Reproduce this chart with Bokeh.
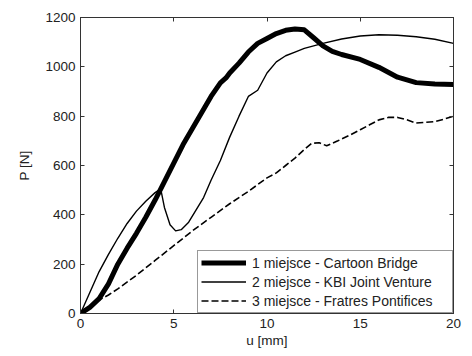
from bokeh.plotting import figure
from bokeh.models import Range1d, LinearAxis, Legend, LegendItem, FixedTicker
from bokeh.embed import file_html
from bokeh.resources import INLINE

# Series 1 - Cartoon Bridge (thick)
u1 = [0, 0.5, 1.0, 1.5, 2.0, 2.5, 3.0, 3.5, 4.0, 4.5, 5.0, 5.5, 6.0, 6.5, 7.0,
      7.5, 7.8, 8.0, 8.5, 9.0, 9.5, 10.0, 10.5, 11.0, 11.5, 12.0, 12.5, 13.0,
      13.5, 14.0, 15.0, 16.0, 17.0, 18.0, 19.0, 20.0]
p1 = [0, 25, 60, 120, 200, 265, 325, 390, 460, 535, 610, 685, 750, 815, 880,
      935, 955, 975, 1015, 1060, 1095, 1115, 1135, 1148, 1153, 1150, 1118, 1085,
      1063, 1050, 1030, 998, 958, 936, 930, 928]

# Series 2 - KBI Joint Venture (thin)
u2 = [0, 0.5, 1.0, 1.5, 2.0, 2.5, 3.0, 3.5, 4.0, 4.3, 4.5, 4.8, 5.1, 5.4, 5.8,
      6.2, 6.6, 7.0, 7.5, 8.0, 8.5, 9.0, 9.5, 10.0, 10.5, 11.0, 11.5, 12.0,
      13.0, 14.0, 15.0, 16.0, 17.0, 18.0, 19.0, 20.0]
p2 = [0, 85, 170, 240, 305, 365, 415, 455, 490, 505, 430, 360, 335, 340, 370,
      420, 470, 540, 620, 715, 800, 880, 905, 975, 1020, 1045, 1060, 1075,
      1095, 1113, 1125, 1130, 1128, 1122, 1112, 1095]

# Series 3 - Fratres Pontifices (dashed)
u3 = [0, 0.5, 1.0, 1.5, 2.0, 3.0, 4.0, 5.0, 6.0, 7.0, 8.0, 9.0, 10.0, 10.5,
      11.0, 11.5, 12.0, 12.4, 12.8, 13.2, 13.8, 14.5, 15.0, 15.5, 16.0, 16.5,
      17.0, 17.5, 18.0, 18.5, 19.0, 19.5, 20.0]
p3 = [0, 30, 55, 75, 100, 155, 215, 275, 335, 390, 445, 495, 550, 570,
      600, 630, 665, 690, 692, 680, 700, 725, 745, 765, 785, 795,
      795, 785, 772, 775, 778, 788, 800]

labels = ["1 miejsce - Cartoon Bridge", "2 miejsce - KBI Joint Venture",
          "3 miejsce - Fratres Pontifices"]
x_ticks = [0, 5, 10, 15, 20]
y_ticks = [0, 200, 400, 600, 800, 1000, 1200]

FONT = "Liberation Sans"

p = figure(frame_width=373, frame_height=296, output_backend="svg",
           toolbar_location=None, x_range=Range1d(0, 20), y_range=Range1d(0, 1200),
           min_border_left=80, min_border_top=17, min_border_right=19, min_border_bottom=5)
p.grid.visible = False
p.outline_line_color = "#333333"
p.outline_line_width = 1

xa = p.below[0]
ya = p.left[0]

r1 = p.line(u1, p1, line_color="black", line_width=5, line_join="round")
r2 = p.line(u2, p2, line_color="black", line_width=1.4, line_join="round")
r3 = p.line(u3, p3, line_color="black", line_width=1.6, line_dash="7 3")

xa.ticker = FixedTicker(ticks=x_ticks)
ya.ticker = FixedTicker(ticks=y_ticks)

top = LinearAxis(ticker=FixedTicker(ticks=x_ticks))
right = LinearAxis(ticker=FixedTicker(ticks=y_ticks))
p.add_layout(top, "above")
p.add_layout(right, "right")

for ax in [xa, ya, top, right]:
    ax.major_tick_in = 4
    ax.major_tick_out = 0
    ax.minor_tick_line_color = None
    ax.axis_line_color = "#333333"
    ax.major_tick_line_color = "#333333"
    ax.major_label_text_font = FONT
    ax.major_label_text_color = "#222222"
    ax.axis_label_text_font = FONT
    ax.axis_label_text_font_style = "normal"
    ax.axis_label_text_color = "#222222"

for ax in [top, right]:
    ax.major_label_standoff = 0
    ax.major_label_text_color = None
    ax.major_label_text_font_size = "1px"

xa.major_label_text_font_size = "13.5px"
ya.major_label_text_font_size = "13.5px"
xa.major_label_standoff = 5
ya.major_label_standoff = 5
xa.axis_label = "u [mm]"
ya.axis_label = "P [N]"
xa.axis_label_text_font_size = "13.5px"
ya.axis_label_text_font_size = "13.5px"
xa.axis_label_standoff = 2
ya.axis_label_standoff = 10

legend = Legend(items=[LegendItem(label=labels[0], renderers=[r1]),
                       LegendItem(label=labels[1], renderers=[r2]),
                       LegendItem(label=labels[2], renderers=[r3])],
                location="bottom_right", margin=0, padding=3, spacing=2,
                glyph_width=45, glyph_height=17, label_height=17, label_width=197,
                label_standoff=6,
                label_text_font=FONT, label_text_font_size="14px",
                label_text_color="#222222",
                border_line_color="#333333", border_line_width=1,
                background_fill_alpha=1)
p.add_layout(legend, "center")

open("out.html", "w").write(file_html(p, INLINE))
